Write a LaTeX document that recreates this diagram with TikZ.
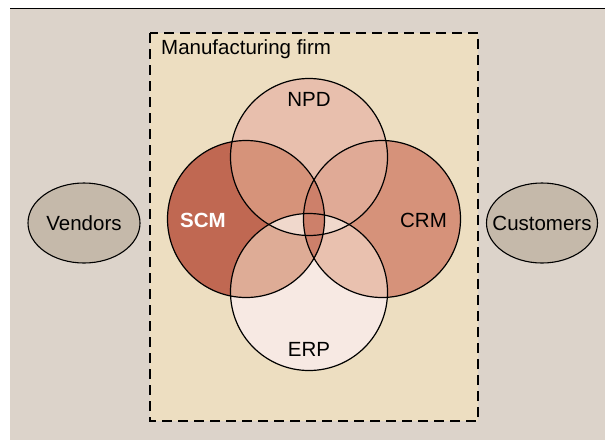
\documentclass[tikz,border=0pt]{standalone}
\usepackage{fontspec}
\setmainfont{Liberation Sans}
\usepackage{tikz}
\usetikzlibrary{shapes.geometric}
\definecolor{pagebg}{HTML}{DCD3CA}
\definecolor{firmfill}{HTML}{EDDEC1}
\definecolor{partyfill}{HTML}{C5B9AA}
\definecolor{scmfill}{HTML}{C06852}
\definecolor{crmfill}{HTML}{D6927A}
\definecolor{npdfill}{HTML}{E8BFAD}
\definecolor{erpfill}{HTML}{F7E9E3}
\definecolor{scmnpdfill}{HTML}{D6937A}
\definecolor{npdcrmfill}{HTML}{E0AA96}
\definecolor{scmerpfill}{HTML}{DEAC96}
\definecolor{erpcrmfill}{HTML}{E9C1AF}
\definecolor{npderpfill}{HTML}{F0D8CC}
\definecolor{scmcrmfill}{HTML}{CD806A}
\tikzset{
    firmbox/.style={
        draw=black, fill=firmfill, line width=1.4pt,
        dash pattern=on 10pt off 6pt
    },
    partynode/.style={
        ellipse, draw=black, fill=partyfill, line width=1.1pt,
        inner sep=0pt, font=\fontsize{20.5}{24}\selectfont
    },
    sysring/.style={
        draw=black, line width=1.2pt
    },
    syslab/.style={
        font=\fontsize{20.5}{24}\selectfont, inner sep=0pt
    },
}

\begin{document}
\begin{tikzpicture}[x=1pt, y=-1pt]

    % Page frame
    \useasboundingbox (0,0) rectangle (605,440);
    \fill[pagebg] (10,9) rectangle (605,440);
    \draw[line width=1.5pt] (10,8.5) -- (605,8.5);

    % Firm boundary
    \draw[firmbox] (150,33) rectangle (478,421);
    \node[syslab, anchor=base west] (firm) at (161,54) {Manufacturing firm};

    % Outside parties
    \node[partynode, minimum width=112pt, minimum height=80pt] (vendors) at (84,223) {Vendors};
    \node[partynode, inner xsep=-13pt, minimum width=111pt, minimum height=80pt] (customers) at (542,223) {Customers};

    % Circle centres
    \def\vr{78.5}
    \coordinate (npd) at (309,157);
    \coordinate (scm) at (246,219);
    \coordinate (crm) at (382,219);
    \coordinate (erp) at (309,292);

    % Single systems
    \fill[npdfill] (npd) circle[radius=\vr];
    \fill[erpfill] (erp) circle[radius=\vr];
    \fill[scmfill] (scm) circle[radius=\vr];
    \fill[crmfill] (crm) circle[radius=\vr];

    % Pairwise overlaps
    \foreach \a/\b/\c in {scm/npd/scmnpdfill, npd/crm/npdcrmfill, scm/erp/scmerpfill, erp/crm/erpcrmfill, npd/erp/npderpfill, scm/crm/scmcrmfill}{
        \begin{scope}
            \clip (\a) circle[radius=\vr];
            \fill[\c] (\b) circle[radius=\vr];
        \end{scope}
    }

    % Outlines
    \foreach \s in {npd, scm, crm, erp}{
        \draw[sysring] (\s) circle[radius=\vr];
    }

    % Labels
    \node[syslab] (npdlab) at (309,99) {NPD};
    \node[syslab, text=white, font=\fontsize{20.5}{24}\selectfont\bfseries] (scmlab) at (203,220) {SCM};
    \node[syslab] (crmlab) at (423.5,220) {CRM};
    \node[syslab] (erplab) at (309,349) {ERP};

\end{tikzpicture}
\end{document}
